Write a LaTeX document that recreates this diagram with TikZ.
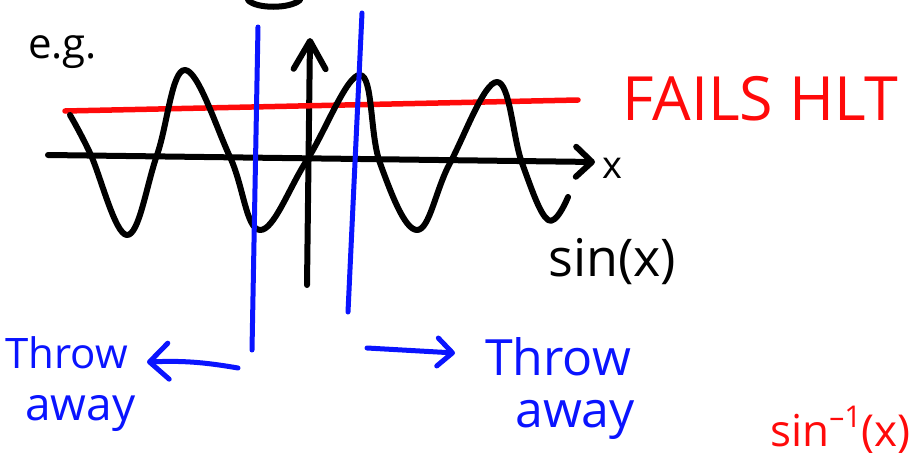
\documentclass[tikz,border=0pt]{standalone}
\usepackage{fontspec}
\setmainfont{Open Sans}
\usetikzlibrary{arrows.meta, positioning}
\definecolor{penBlack}{HTML}{000000}
\definecolor{penRed}{HTML}{FF0A0A}
\definecolor{penBlue}{HTML}{0A14FF}

\begin{document}
\begin{tikzpicture}[x=1pt, y=-1pt,
  ink/.style={draw=#1, line width=6pt, line cap=round, line join=round},
  ink/.default=penBlack,
  hand/.style={text=#1, anchor=base west, inner sep=0pt},
  hand/.default=penBlack,
  barb/.style 2 args={-{Straight Barb[length=#1, width=#2, line cap=round, line join=round]}}]
  \useasboundingbox (0,0) rectangle (914,466);
  % axes and the horizontal line
  \coordinate (xs) at (48,155);  \coordinate (xe) at (595,162);
  \coordinate (ys) at (307,285); \coordinate (ye) at (310,38);
  \draw[ink, barb={16pt}{30pt}] (xs) -- (xe);
  \draw[ink, barb={28pt}{32pt}] (ys) -- (ye);
  \coordinate (hs) at (65,111); \coordinate (he) at (578,100);
  \draw[ink=penRed, line width=5.5pt] (hs) -- (he);
  % the sine curve
  \draw[ink] plot[smooth, tension=0.65] coordinates {(70,115) (90,153) (127,235) (157,155) (185,70)
    (230,157) (260,230) (307,160) (360,75) (380,163) (417,230) (450,163) (497,82) (522,163)
    (548,220) (568,197)};
  \draw[ink] (248,0) .. controls (256,9) and (290,9) .. (300,0);
  % cut lines
  \coordinate (clt) at (258,27); \coordinate (clb) at (252,350);
  \coordinate (crt) at (362,13); \coordinate (crb) at (348,312);
  \foreach \n in {cl, cr}
    \draw[ink=penBlue, line width=5pt] (\n t) -- (\n b);
  \coordinate (al) at (238,368); \coordinate (ae) at (147,362);
  \coordinate (bl) at (367,348); \coordinate (be) at (455,353);
  \draw[ink=penBlue, line width=5pt, barb={19pt}{36pt}] (al) to[bend right=6] (ae);
  \draw[ink=penBlue, line width=5pt, barb={15pt}{28pt}] (bl) -- (be);
  % labels
  \node[hand, font=\fontsize{42}{46}\selectfont] (eg) at (28,58) {e.g.};
  \node[hand, font=\fontsize{38}{40}\selectfont] (xl) at (602,178) {x};
  \node[hand=penRed, font=\fontsize{61}{64}\selectfont] (fails) at (622,120) {FAILS HLT};
  \node[hand, font=\fontsize{52}{56}\selectfont] (sinx) at (548,276) {sin(x)};
  \node[hand=penBlue, font=\fontsize{42}{46}\selectfont] (tl) at (5,368) {Throw};
  \node[hand=penBlue, font=\fontsize{46}{50}\selectfont] (wl) at (25,420) {away};
  \node[hand=penBlue, font=\fontsize{50}{54}\selectfont] (tr) at (485,375) {Throw};
  \node[hand=penBlue, font=\fontsize{50}{54}\selectfont] (wr) at (515,427) {away};
  \node[hand=penRed, font=\fontsize{44}{46}\selectfont] (inv) at (770,446)
    {sin\raisebox{0.42em}{\fontsize{30}{30}\selectfont\textendash1}(x)};
\end{tikzpicture}
\end{document}
